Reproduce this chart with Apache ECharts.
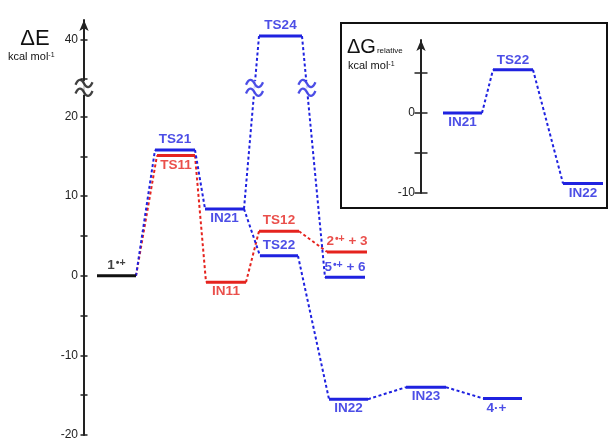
<!DOCTYPE html>
<html>
<head>
<meta charset="utf-8">
<script src="https://cdn.jsdelivr.net/npm/echarts@6/dist/echarts.min.js"></script>
<style>
  html, body { margin: 0; padding: 0; background: #fff; }
  #chart { width: 613px; height: 441px; }
</style>
</head>
<body>
<div id="chart"></div>
<script>
// ---- Main energy profile (ΔE, kcal/mol) ----
const levelNames  = ['1•+', 'TS21', 'TS11', 'IN21', 'IN11', 'TS12', 'TS22', 'TS24', '2•+ + 3', '5•+ + 6', 'IN22', 'IN23', '4·+'];
const levelPath   = ['start', 'blue', 'red', 'blue', 'red', 'red', 'blue', 'blue', 'red', 'blue', 'blue', 'blue', 'blue'];
// reaction-coordinate extent of each level
const levelStart  = [1.3, 7.1, 7.3, 12.1, 12.2, 17.5, 17.6, 17.5, 24.3, 24.1, 24.5, 32.2, 39.9];
const levelEnd    = [5.2, 11.1, 11.1, 16.0, 16.2, 21.5, 21.4, 21.8, 28.3, 28.1, 28.4, 36.2, 43.8];
const levelEnergy = [0, 15.8, 15.1, 8.4, -0.8, 5.6, 2.5, 40.4, 3.0, -0.2, -15.5, -14.0, -15.4];

// dashed connections between levels
const blueSteps = [['1•+', 'TS21'], ['TS21', 'IN21'], ['IN21', 'TS22'], ['IN21', 'TS24'], ['TS24', '5•+ + 6'],
                   ['TS22', 'IN22'], ['IN22', 'IN23'], ['IN23', '4·+']];
const redSteps  = [['1•+', 'TS11'], ['TS11', 'IN11'], ['IN11', 'TS12'], ['TS12', '2•+ + 3']];
// connections drawn with a break mark
const brokenSteps = [['IN21', 'TS24'], ['TS24', '5•+ + 6']];

// energy axis
const energyTicks      = [-20, -15, -10, -5, 0, 5, 10, 15, 20, 35, 40];
const energyTickLabels = [-20, -10, 0, 10, 20, 40];
const axisBreak        = [24.7, 35];   // energy range cut out of the axis

// ---- Inset (ΔG relative, kcal/mol) ----
const insetNames  = ['IN21', 'TS22', 'IN22'];
const insetStart  = [2.2, 7.2, 14.2];
const insetEnd    = [6.1, 11.2, 18.2];
const insetEnergy = [0, 5.4, -8.8];
const insetTicks      = [-10, -5, 0, 5];
const insetTickLabels = [-10, 0];

// ---------------------------------------------------------------
const BLUE = '#1f22e0', RED = '#e5231e', BLACK = '#111';
const pathColor = { start: BLACK, blue: BLUE, red: RED };
const FONT = 'Liberation Sans, Arial, Helvetica, sans-serif';
const gap = axisBreak[1] - axisBreak[0];
const breakMark = axisBreak[0] - 1.1;                  // where the "≈" sits on the axis
const disp = v => (v >= axisBreak[1] ? v - gap : v);   // energy -> plotted value
const idx = n => levelNames.indexOf(n);

// label side and nudges for each level
const labelBelow = { 'TS11': 1, 'IN21': 1, 'IN11': 1, 'IN22': 1, 'IN23': 1, '4·+': 1 };
const labelShift = { '4·+': [-6, 0] };

const richText = s => s.replace('•+', '{s|•+}');
const richStyle = {
  s: { fontSize: 10.5, fontWeight: 'bold', fontFamily: FONT, verticalAlign: 'top', lineHeight: 10, padding: [0, 0, 0, 1] }
};

const series = [];

// level bars
levelNames.forEach((n, i) => {
  const y = disp(levelEnergy[i]);
  series.push({
    type: 'line', xAxisIndex: 0, yAxisIndex: 0, silent: true, symbol: 'none', z: 5,
    data: [[levelStart[i], y], [levelEnd[i], y]],
    lineStyle: { color: pathColor[levelPath[i]], width: 3, cap: 'butt' }
  });
});

// connectors
function addSteps(steps, color) {
  steps.forEach(([a, b]) => {
    const ia = idx(a), ib = idx(b);
    series.push({
      type: 'line', xAxisIndex: 0, yAxisIndex: 0, silent: true, symbol: 'none', z: 4,
      data: [[levelEnd[ia], disp(levelEnergy[ia])], [levelStart[ib], disp(levelEnergy[ib])]],
      lineStyle: { color, width: 2, type: [3, 2.5] }
    });
  });
}
addSteps(redSteps, RED);
addSteps(blueSteps, BLUE);

// level labels
series.push({
  type: 'scatter', xAxisIndex: 0, yAxisIndex: 0, silent: true, symbolSize: 0, z: 6,
  data: levelNames.map((n, i) => {
    const below = !!labelBelow[n];
    return {
      value: [(levelStart[i] + levelEnd[i]) / 2, disp(levelEnergy[i])],
      label: {
        show: true, position: below ? 'bottom' : 'top', distance: below ? 2 : 3,
        offset: labelShift[n] || [0, 0],
        formatter: richText(n),
        color: pathColor[levelPath[i]], fontSize: 13.5, fontWeight: 'bold', fontFamily: FONT,
        lineHeight: 15, rich: richStyle
      }
    };
  })
});

// break marks: on the energy axis and on connectors crossing the cut
const breakPoints = [[0, breakMark, BLACK]];
brokenSteps.forEach(([a, b]) => {
  const ia = idx(a), ib = idx(b);
  const x0 = levelEnd[ia], y0 = disp(levelEnergy[ia]);
  const x1 = levelStart[ib], y1 = disp(levelEnergy[ib]);
  const t = (breakMark - y0) / (y1 - y0);
  breakPoints.push([x0 + t * (x1 - x0), breakMark, BLUE]);
});
// white gap behind each mark
series.push({
  type: 'scatter', xAxisIndex: 0, yAxisIndex: 0, silent: true, z: 7,
  symbol: 'rect', symbolSize: [10, 14],
  itemStyle: { color: '#fff' },
  data: breakPoints.map(p => [p[0], p[1]])
});
// double wave
const WAVE = 'path://M0,5 C2.5,0 5.5,0 8,4 S13.5,8 16,3 M0,12 C2.5,7 5.5,7 8,11 S13.5,15 16,10';
series.push({
  type: 'scatter', xAxisIndex: 0, yAxisIndex: 0, silent: true, z: 8,
  symbol: WAVE, symbolSize: [17, 16],
  data: breakPoints.map(p => ({
    value: [p[0], p[1]],
    itemStyle: { color: 'rgba(0,0,0,0)', borderColor: p[2], borderWidth: 2.2 }
  }))
});

// inset levels
insetNames.forEach((n, i) => {
  series.push({
    type: 'line', xAxisIndex: 2, yAxisIndex: 2, silent: true, symbol: 'none', z: 5,
    data: [[insetStart[i], insetEnergy[i]], [insetEnd[i], insetEnergy[i]]],
    lineStyle: { color: BLUE, width: 3, cap: 'butt' }
  });
  if (i > 0) {
    series.push({
      type: 'line', xAxisIndex: 2, yAxisIndex: 2, silent: true, symbol: 'none', z: 4,
      data: [[insetEnd[i - 1], insetEnergy[i - 1]], [insetStart[i], insetEnergy[i]]],
      lineStyle: { color: BLUE, width: 2, type: [3, 2.5] }
    });
  }
});
series.push({
  type: 'scatter', xAxisIndex: 2, yAxisIndex: 2, silent: true, symbolSize: 0, z: 6,
  data: insetNames.map((n, i) => {
    const top = insetEnergy[i] > 0;
    return {
      value: [(insetStart[i] + insetEnd[i]) / 2, insetEnergy[i]],
      label: {
        show: true, position: top ? 'top' : 'bottom', distance: 2,
        formatter: n, color: BLUE, fontSize: 13.5, fontWeight: 'bold', fontFamily: FONT, lineHeight: 15
      }
    };
  })
});

const axisLineStyle = { color: '#222', width: 2 };
const hiddenX = (gridIndex, max) => ({ type: 'value', gridIndex, min: 0, max, show: false });

function energyAxes(gridIndex, min, max, ticks, labels, fmt, tickLen) {
  return [
    {
      type: 'value', gridIndex, min, max, position: 'left', z: 3,
      splitLine: { show: false },
      axisLine: { show: true, onZero: false, lineStyle: axisLineStyle, symbol: ['none', 'arrow'], symbolSize: [7, 11] },
      axisTick: { show: true, inside: false, length: tickLen, lineStyle: { color: '#222', width: 1.5 }, customValues: ticks },
      axisLabel: { show: true, margin: 6, color: '#222', fontSize: 12, fontFamily: FONT, customValues: labels, formatter: fmt }
    },
    {
      type: 'value', gridIndex, min, max, position: 'left', z: 3,
      splitLine: { show: false },
      axisLine: { show: false },
      axisTick: { show: true, inside: true, length: tickLen, lineStyle: { color: '#222', width: 1.5 }, customValues: ticks },
      axisLabel: { show: false }
    }
  ];
}

const mainY = energyAxes(0, -20, 32.125, energyTicks.map(disp), energyTickLabels.map(disp),
  v => String(Math.round(v > axisBreak[0] + 1e-6 ? v + gap : v)), 3.5);
const insetY = energyAxes(1, -10, 9.125, insetTicks, insetTickLabels, v => String(Math.round(v)), 6.5);

const option = {
  animation: false,
  backgroundColor: '#fff',
  grid: [
    { left: 84, top: 20, width: 520, height: 417 },
    { left: 421, top: 40, width: 186, height: 153 }
  ],
  xAxis: [hiddenX(0, 52), hiddenX(0, 52), hiddenX(1, 18.6)],
  yAxis: [mainY[0], mainY[1], insetY[0], insetY[1]],
  graphic: {
    elements: [
      { type: 'rect', z: 1, silent: true, shape: { x: 341, y: 23, width: 266, height: 185 },
        style: { fill: '#fff', stroke: '#111', lineWidth: 2 } },
      { type: 'text', z: 10, silent: true, x: 35, y: 39,
        style: { text: 'ΔE', font: '22px ' + FONT, fill: '#111', align: 'center', verticalAlign: 'middle' } },
      { type: 'text', z: 10, silent: true, x: 8, y: 57,
        style: { text: 'kcal mol{s|-1}', font: '11px ' + FONT, fill: '#111', align: 'left', verticalAlign: 'middle',
                 rich: { s: { fontSize: 7, fontFamily: FONT, verticalAlign: 'top', lineHeight: 7 } } } },
      { type: 'text', z: 10, silent: true, x: 347, y: 47,
        style: { text: 'ΔG{r|relative}', font: '20px ' + FONT, fill: '#111', align: 'left', verticalAlign: 'middle',
                 rich: { r: { fontSize: 8, fontFamily: FONT, verticalAlign: 'bottom', lineHeight: 8, padding: [0, 0, 2, 1] } } } },
      { type: 'text', z: 10, silent: true, x: 348, y: 66,
        style: { text: 'kcal mol{s|-1}', font: '11px ' + FONT, fill: '#111', align: 'left', verticalAlign: 'middle',
                 rich: { s: { fontSize: 7, fontFamily: FONT, verticalAlign: 'top', lineHeight: 7 } } } }
    ]
  },
  series
};

const chart = echarts.init(document.getElementById('chart'), null, { renderer: 'canvas' });
chart.setOption(option);
</script>
</body>
</html>
